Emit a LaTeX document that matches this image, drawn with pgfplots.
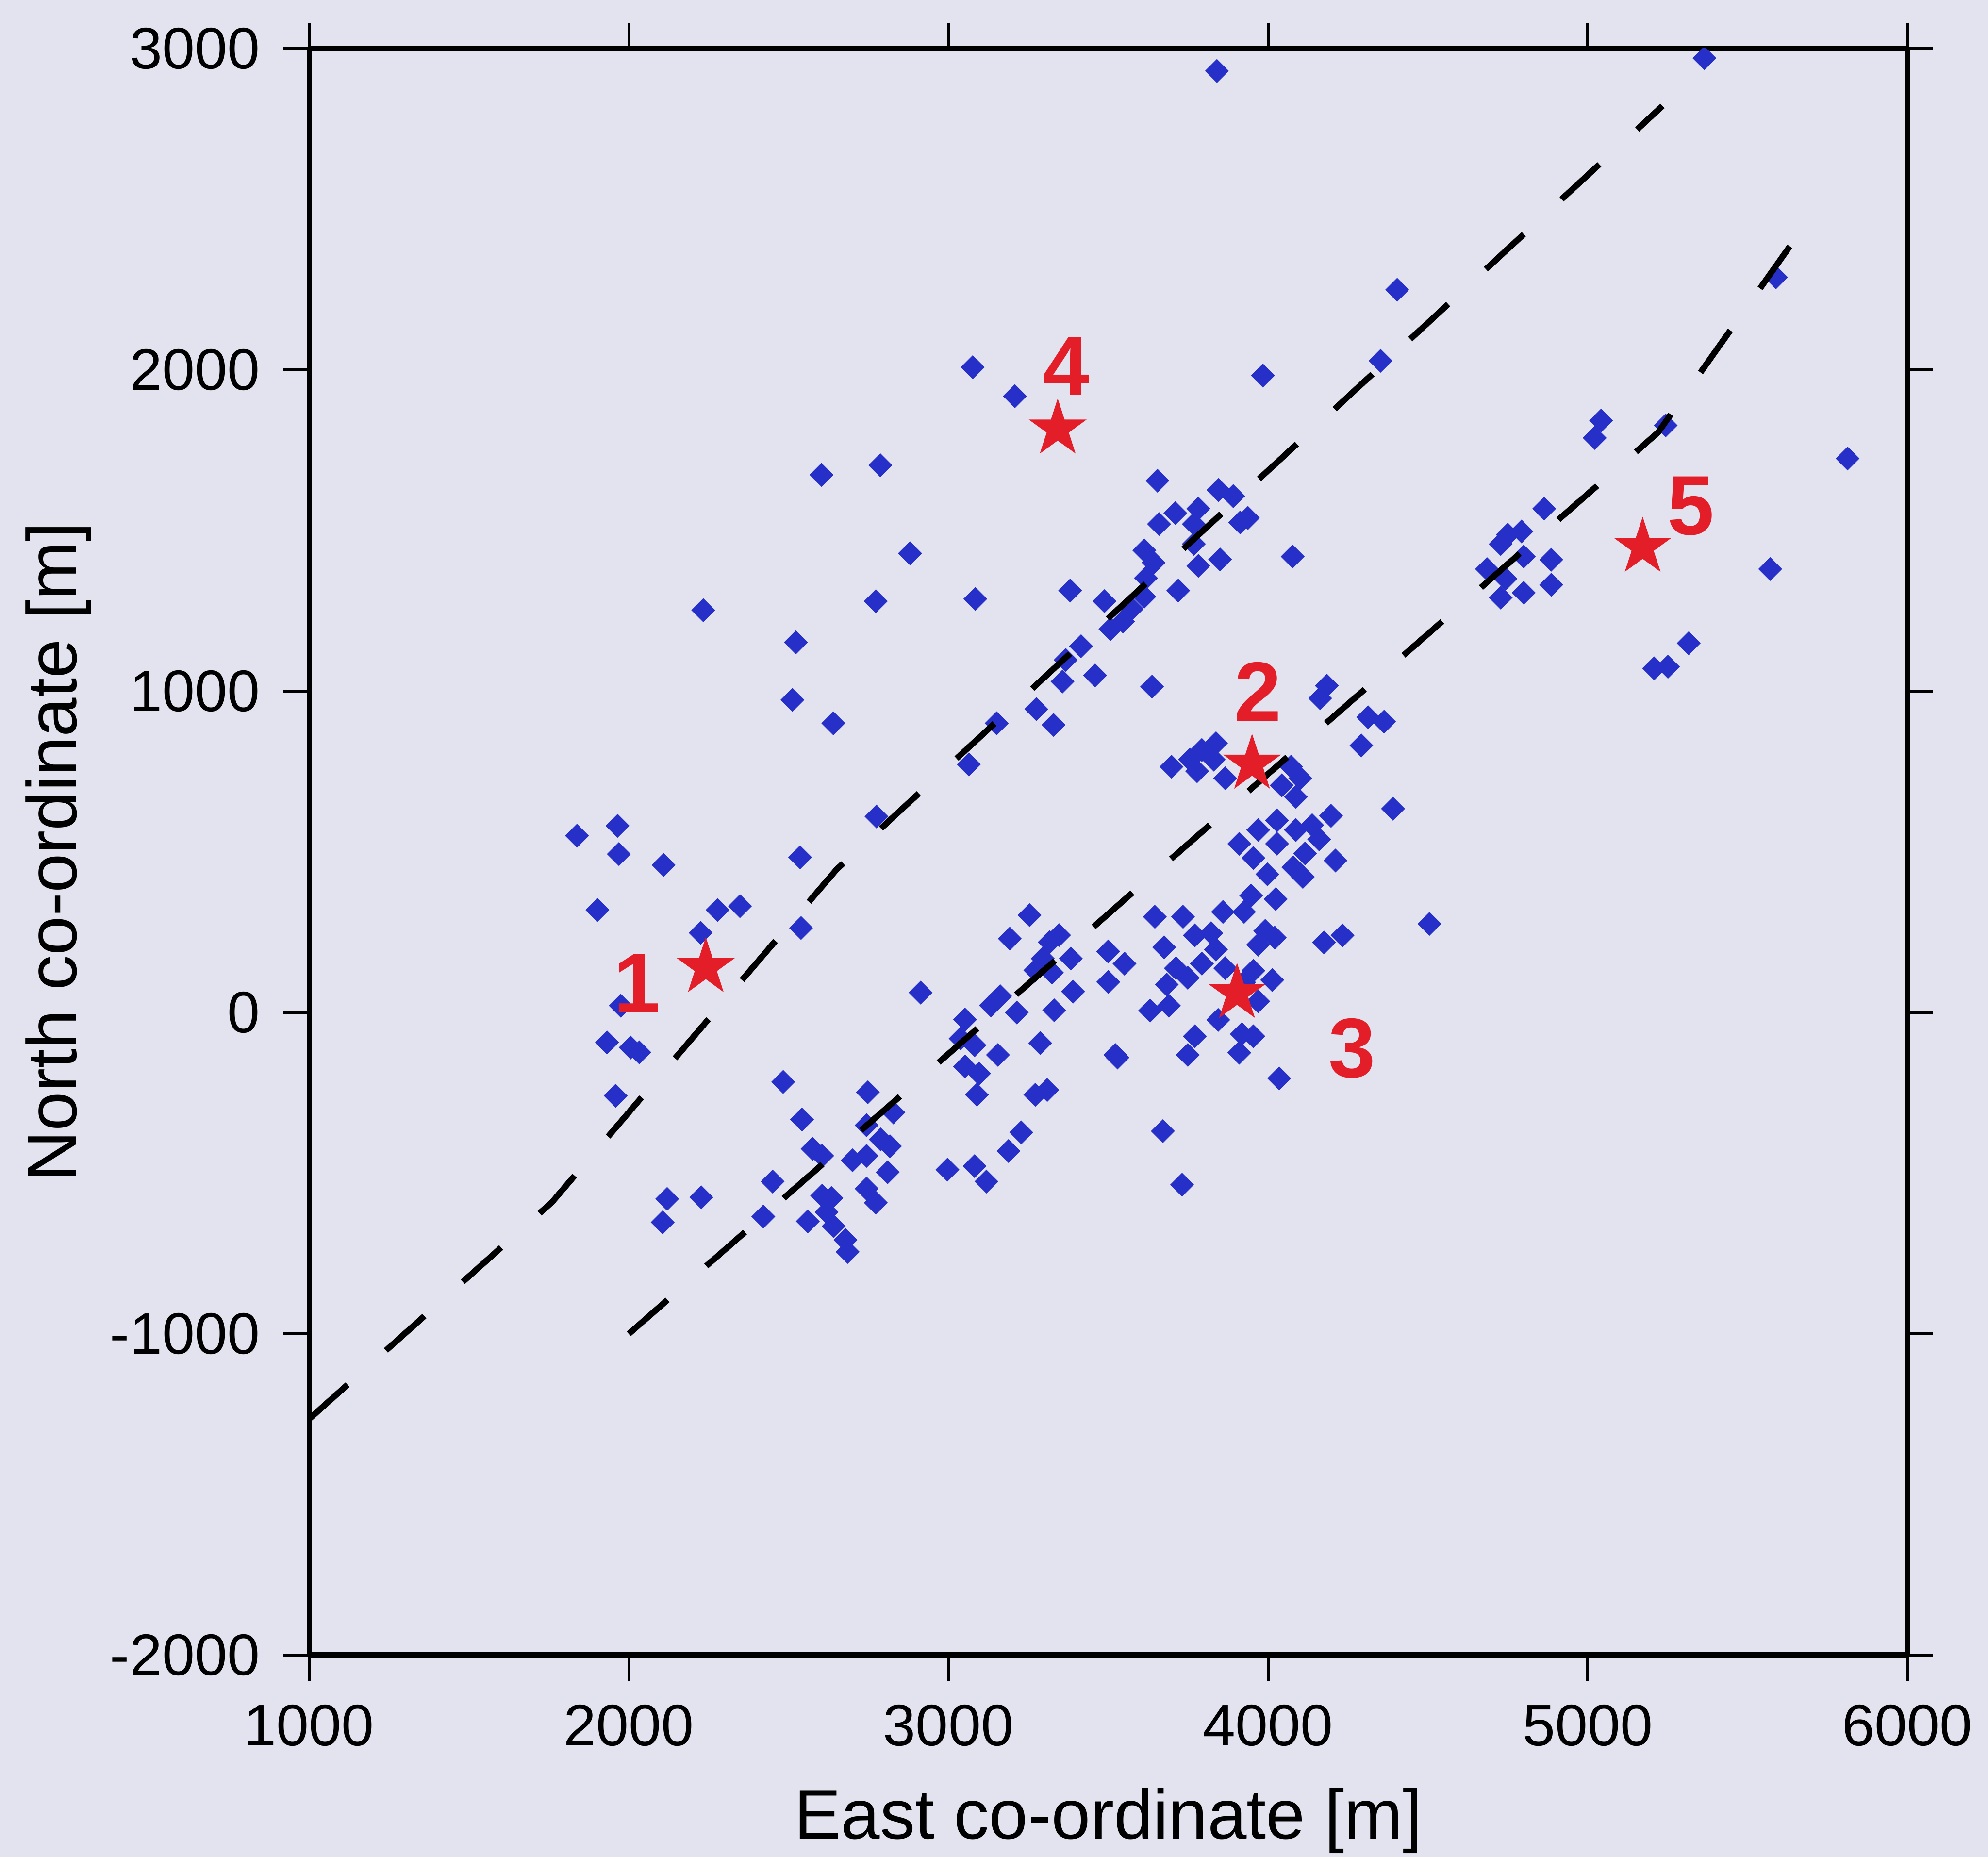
\documentclass[border=0pt]{standalone}
\usepackage{pgfplots}
\pgfplotsset{compat=1.18}
\usepackage{pgfplotstable}
\usepackage{fontspec}
\setmainfont{Liberation Sans}
\usetikzlibrary{backgrounds}

\definecolor{bgcol}{RGB}{226,227,238}
\definecolor{ptblue}{RGB}{38,48,200}
\definecolor{stred}{RGB}{228,30,40}

% filled five-pointed star
\pgfdeclareplotmark{fstar}{%
  \pgfpathmoveto{\pgfpointpolar{90}{\pgfplotmarksize}}%
  \pgfpathlineto{\pgfpointpolar{126}{0.382\pgfplotmarksize}}%
  \pgfpathlineto{\pgfpointpolar{162}{\pgfplotmarksize}}%
  \pgfpathlineto{\pgfpointpolar{198}{0.382\pgfplotmarksize}}%
  \pgfpathlineto{\pgfpointpolar{234}{\pgfplotmarksize}}%
  \pgfpathlineto{\pgfpointpolar{270}{0.382\pgfplotmarksize}}%
  \pgfpathlineto{\pgfpointpolar{306}{\pgfplotmarksize}}%
  \pgfpathlineto{\pgfpointpolar{342}{0.382\pgfplotmarksize}}%
  \pgfpathlineto{\pgfpointpolar{18}{\pgfplotmarksize}}%
  \pgfpathlineto{\pgfpointpolar{54}{0.382\pgfplotmarksize}}%
  \pgfpathclose\pgfusepathqfill}

% event locations (east, north)
\pgfplotstableread{
x y
3076 2008
3208 1918
2603 1673
2787 1703
2880 1429
2233 1252
2773 1280
3084 1287
2523 1152
2512 973
2640 900
3151 900
3275 944
3329 895
3064 772
3637 1014
2775 610
1838 550
1965 581
1969 493
2109 459
2536 483
1902 319
2278 319
2348 331
2225 248
2539 263
1975 21
1932 -93
2006 -109
2033 -124
1959 -259
2120 -580
2106 -653
2227 -575
3840 2930
5365 2970
4404 2249
5589 2288
3984 1982
4352 2028
5042 1842
5022 1788
5244 1827
5813 1724
5571 1380
5316 1149
5208 1071
5251 1076
4077 1419
3654 1655
3845 1626
3891 1607
3937 1539
3913 1525
3710 1554
3659 1520
3782 1568
3768 1520
3850 1410
3613 1438
3642 1400
3768 1458
3782 1390
3618 1352
3719 1313
3613 1294
3381 1313
3488 1280
3546 1217
3507 1193
3574 1256
3415 1140
3367 1097
3459 1049
3357 1030
4864 1568
4750 1487
4793 1497
4728 1458
4800 1419
4886 1409
4685 1380
4743 1350
4886 1331
4800 1306
4728 1291
4184 1017
4163 978
4313 919
4363 905
4292 831
4391 634
3698 765
3756 787
3793 817
3837 838
3778 751
3866 729
3830 787
4072 765
4101 729
4087 671
4043 707
4028 598
3969 568
3910 525
3954 481
4028 525
4087 568
4138 583
4160 539
4116 495
4079 452
4109 422
3998 430
4197 612
4211 473
3947 364
3925 313
4024 353
3859 313
3991 254
3969 211
4021 233
4505 276
4175 218
4233 240
3646 298
3734 298
3771 240
3822 247
3675 203
3837 196
3793 152
3712 138
3866 138
3954 130
4013 101
3683 87
3749 108
3925 94
3551 152
3631 6
3690 21
3844 -23
3771 -74
3749 -132
3918 -67
3954 -74
3910 -125
3969 35
4035 -205
3529 -140
3671 -369
3731 -536
3254 303
3192 230
3317 219
3346 241
3295 168
3272 131
3324 124
3383 168
3500 190
3500 95
3390 65
3331 7
3214 0
3133 22
3162 51
3287 -95
3522 -132
2913 62
3052 -22
3038 -81
3082 -102
3155 -132
3052 -168
3096 -190
3089 -256
3272 -256
3309 -241
3228 -373
3188 -431
2997 -489
3082 -478
3119 -526
2483 -216
2748 -248
2828 -311
2542 -333
2744 -351
2788 -395
2817 -416
2575 -424
2605 -446
2700 -460
2744 -446
2810 -497
2450 -526
2421 -635
2744 -548
2773 -592
2605 -570
2634 -577
2560 -650
2619 -621
2641 -665
2678 -708
2685 -745
}\events

\pgfplotstableread{
x y
2241 140
3950 773
3903 60
3342 1816
5172 1448
}\stations

\pgfplotstableread{
x y lab
2026 91 1
3969 998 2
4263 -111 3
3369 2011 4
5323 1576 5
}\stationlabels

\begin{document}
\begin{tikzpicture}
\begin{axis}[
  name=ax,
  scale only axis,
  width=12cm, height=12.064cm,
  xmin=1000, xmax=6000, ymin=-2000, ymax=3000,
  xtick={1000,2000,3000,4000,5000,6000},
  ytick={-2000,-1000,0,1000,2000,3000},
  scaled ticks=false,
  /pgf/number format/assume math mode=true,
  /pgf/number format/1000 sep={},
  tick align=outside,
  tick pos=both,
  major tick length=5.5pt,
  tick style={black, line width=0.6pt},
  separate axis lines,
  x axis line style={line width=1.2pt},
  y axis line style={line width=1.0pt},
  ticklabel style={font=\fontsize{12.5}{15}\selectfont},
  xticklabel style={yshift=-1.5pt},
  yticklabel style={xshift=-1.5pt},
  xlabel={East co-ordinate [m]},
  ylabel={North co-ordinate [m]},
  label style={font=\fontsize{15}{18}\selectfont},
  xlabel style={at={(axis description cs:0.5,-0.1142)}, anchor=base, inner sep=0pt},
  ylabel style={at={(axis description cs:-0.157,0.5)}, anchor=center, rotate=0},
  clip marker paths=true,
]
\addplot[only marks, mark=square*, mark size=1.7pt,
  mark options={rotate=45, fill=ptblue, draw=ptblue, line width=0.2pt}]
  table {\events};

\addplot[black, line width=1.3pt, dash pattern=on 11pt off 11pt]
  coordinates {(1000,-1265) (1760,-590) (2650,445) (5234,2821)};
\addplot[black, line width=1.3pt, dash pattern=on 11pt off 11pt]
  coordinates {(2000,-1000) (5220,1805) (5665,2430)};

\addplot[only marks, mark=fstar, mark size=6.5pt, color=stred]
  table {\stations};

\addplot[draw=none, mark=none, nodes near coords, point meta=explicit symbolic,
  nodes near coords style={anchor=center, text=stred,
    font=\fontsize{18}{20}\selectfont\bfseries}]
  table[meta=lab] {\stationlabels};
\end{axis}
\path ([shift={(-2.321cm,-1.513cm)}]ax.south west) rectangle ([shift={(0.590cm,0.364cm)}]ax.north east);
\begin{scope}[on background layer]
\fill[bgcol] (current bounding box.south west) rectangle (current bounding box.north east);
\end{scope}
\end{tikzpicture}
\end{document}
